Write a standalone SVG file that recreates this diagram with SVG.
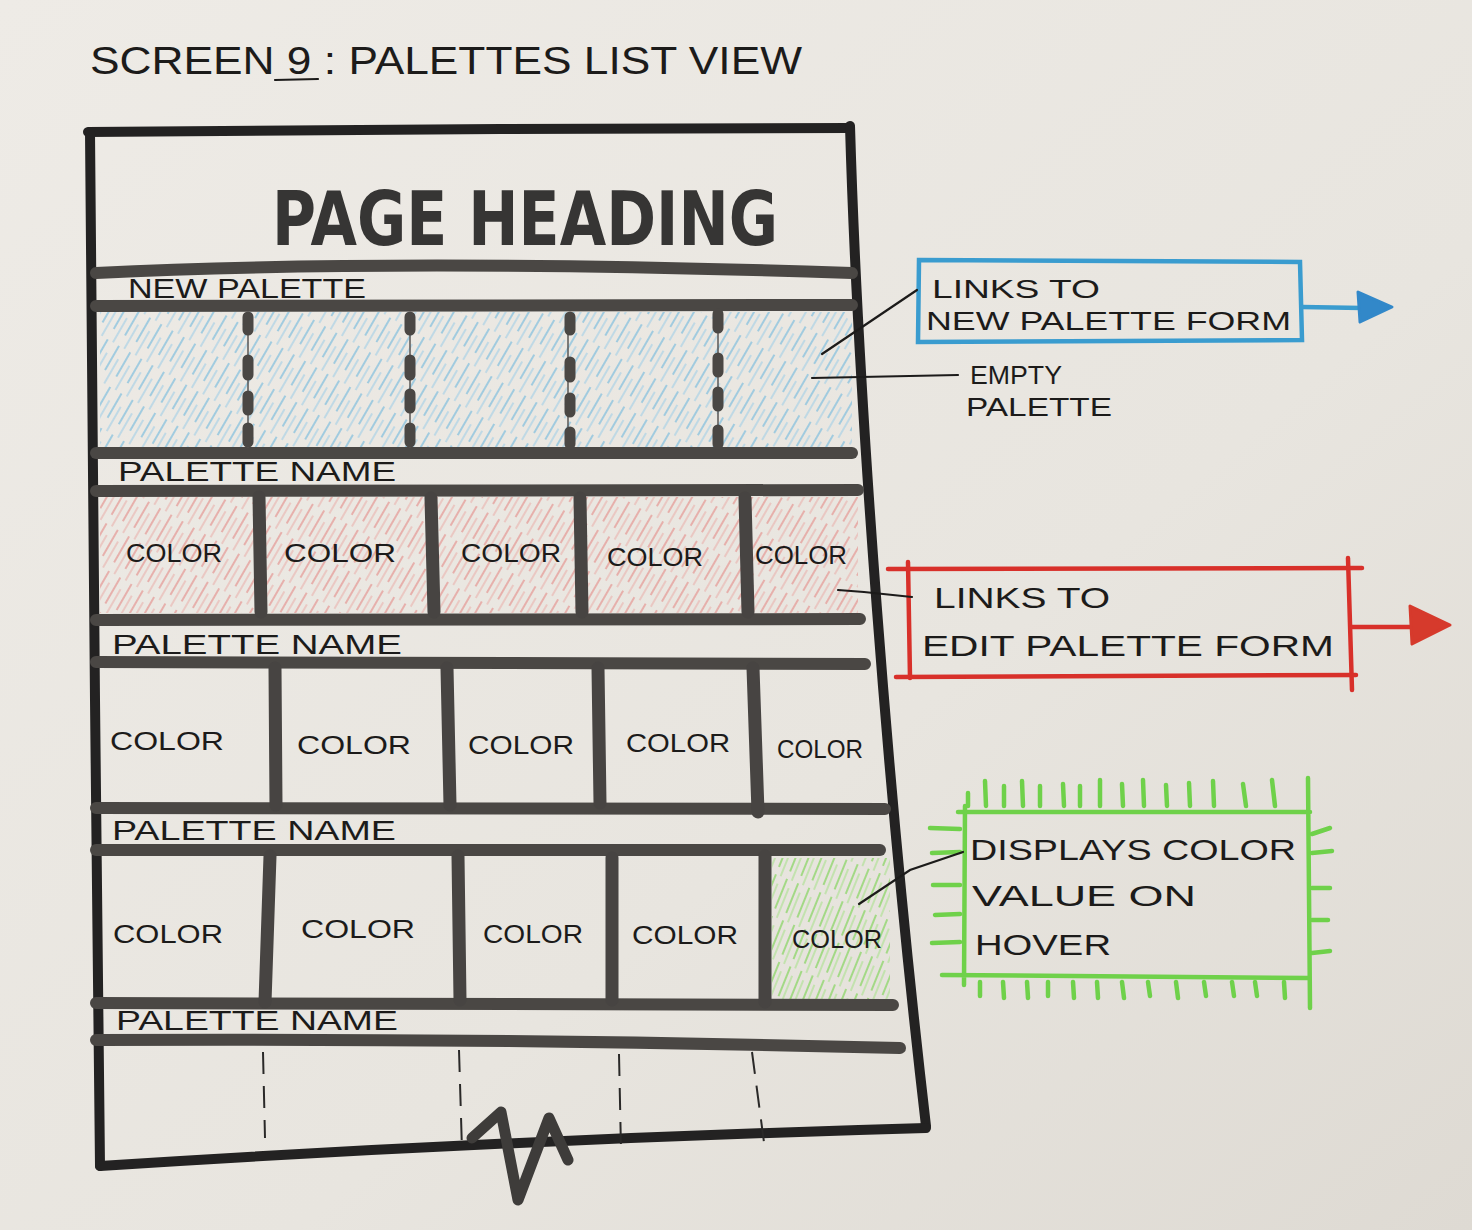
<svg xmlns="http://www.w3.org/2000/svg" width="1472" height="1230" viewBox="0 0 1472 1230">
  <defs>
    <linearGradient id="paper" x1="0" y1="0" x2="1" y2="1">
      <stop offset="0" stop-color="#eeebe6"/>
      <stop offset="0.6" stop-color="#e8e5df"/>
      <stop offset="1" stop-color="#dedad3"/>
    </linearGradient>
    <pattern id="hatchBlue" patternUnits="userSpaceOnUse" width="13" height="40" patternTransform="rotate(30)">
      <line x1="3" y1="0" x2="3" y2="28" stroke="#8fc4df" stroke-width="1.6"/>
      <line x1="9" y1="12" x2="9" y2="40" stroke="#a8d1e6" stroke-width="1.3"/>
    </pattern>
    <pattern id="hatchRed" patternUnits="userSpaceOnUse" width="13" height="40" patternTransform="rotate(30)">
      <line x1="3" y1="0" x2="3" y2="30" stroke="#e6a6a2" stroke-width="1.7"/>
      <line x1="9" y1="10" x2="9" y2="40" stroke="#eab7b2" stroke-width="1.3"/>
    </pattern>
    <pattern id="hatchGreen" patternUnits="userSpaceOnUse" width="12" height="40" patternTransform="rotate(22)">
      <line x1="3" y1="0" x2="3" y2="32" stroke="#a3d986" stroke-width="2"/>
      <line x1="8" y1="8" x2="8" y2="40" stroke="#b7e29f" stroke-width="1.5"/>
    </pattern>
  </defs>
  <style>
    .hand { font-family: "Liberation Sans", "DejaVu Sans", sans-serif; fill: #1c1b1a; }
    .frame { fill: none; stroke: #232222; stroke-width: 10; stroke-linecap: round; stroke-linejoin: round; }
    .bar { fill: none; stroke: #4a4744; stroke-width: 12; stroke-linecap: round; }
    .vbar { fill: none; stroke: #474442; stroke-width: 13; stroke-linecap: round; }
    .dot { fill: none; stroke: #4a4744; stroke-width: 11; stroke-linecap: round; }
    .thin { fill: none; stroke: #5a5755; stroke-width: 1.5; }
    .dash { fill: none; stroke: #2a2928; stroke-width: 2; stroke-dasharray: 22 12; }
    .leader { fill: none; stroke: #1c1b1a; stroke-width: 2.2; stroke-linecap: round; }
    .blue { fill: none; stroke: #3a9ccf; stroke-width: 4.5; stroke-linecap: round; }
    .red { fill: none; stroke: #d8302a; stroke-width: 4.5; stroke-linecap: round; }
    .green { fill: none; stroke: #6fd14a; stroke-width: 4.5; stroke-linecap: round; }
    .label { font-size: 28px; }
    .color { font-size: 25px; }
    .note { font-size: 30px; }
    .note-sm { font-size: 26px; }
  </style>

  <rect x="0" y="0" width="1472" height="1230" fill="url(#paper)"/>

  <!-- title -->
  <g id="title">
    <text class="hand" x="90" y="74" font-size="38" textLength="712" lengthAdjust="spacingAndGlyphs">SCREEN 9 : PALETTES LIST VIEW</text>
    <path class="leader" d="M275,80 L318,79"/>
  </g>

  <!-- colour fills drawn under the ink -->
  <g id="fills">
    <rect x="100" y="312" width="752" height="136" fill="url(#hatchBlue)"/>
    <rect x="100" y="497" width="758" height="116" fill="url(#hatchRed)"/>
    <rect x="772" y="858" width="118" height="142" fill="url(#hatchGreen)"/>
  </g>

  <!-- page frame -->
  <g id="frame">
    <path class="frame" d="M88,132 L500,129 L850,128"/>
    <path class="frame" d="M850,126 C858,400 888,800 926,1126"/>
    <path class="frame" d="M90,132 L95,700 L100,1166"/>
    <path class="frame" d="M100,1166 Q500,1140 926,1128"/>
  </g>

  <!-- page heading -->
  <g id="heading">
    <text x="272" y="245" font-family="'DejaVu Sans', sans-serif" font-weight="bold" font-size="74" fill="#363534" textLength="506" lengthAdjust="spacingAndGlyphs">PAGE HEADING</text>
  </g>

  <!-- horizontal row dividers -->
  <g id="dividers">
    <path class="bar" d="M96,273 Q400,258 852,273"/>
    <path class="bar" d="M96,306 L852,305"/>
    <path class="bar" d="M96,453 L852,453"/>
    <path class="bar" d="M96,491 L858,490"/>
    <path class="bar" d="M96,620 L860,619"/>
    <path class="bar" d="M96,662 L865,664"/>
    <path class="bar" d="M96,808 L885,809"/>
    <path class="bar" d="M96,850 L880,850"/>
    <path class="bar" d="M96,1003 L893,1005"/>
    <path class="bar" d="M96,1040 Q500,1038 900,1048"/>
  </g>

  <!-- new palette row -->
  <g id="new-palette">
    <text class="hand label" x="128" y="298" textLength="238" lengthAdjust="spacingAndGlyphs">NEW PALETTE</text>
    <g id="empty-slots">
      <path class="thin" d="M248,315 L248,448 M410,315 L410,448 M568,315 L568,448 M718,315 L718,448"/>
      <path class="dot" d="M248,317 L248,330 M248,360 L248,375 M248,396 L248,410 M248,428 L248,442"/>
      <path class="dot" d="M410,317 L410,330 M410,360 L410,375 M410,394 L410,408 M410,428 L410,442"/>
      <path class="dot" d="M570,317 L570,330 M570,362 L570,377 M570,398 L570,412 M570,432 L570,444"/>
      <path class="dot" d="M718,314 L718,328 M718,358 L718,372 M718,392 L718,406 M718,430 L718,444"/>
    </g>
  </g>

  <!-- palette 1 -->
  <g id="palette-1">
    <text class="hand label" x="118" y="481" textLength="278" lengthAdjust="spacingAndGlyphs">PALETTE NAME</text>
    <path class="vbar" d="M259,497 L261,612 M431,498 L434,612 M580,498 L582,612 M745,498 L748,612"/>
    <text class="hand color" x="126" y="562" textLength="96" lengthAdjust="spacingAndGlyphs">COLOR</text>
    <text class="hand color" x="284" y="562" textLength="112" lengthAdjust="spacingAndGlyphs">COLOR</text>
    <text class="hand color" x="461" y="562" textLength="100" lengthAdjust="spacingAndGlyphs">COLOR</text>
    <text class="hand color" x="607" y="566" textLength="96" lengthAdjust="spacingAndGlyphs">COLOR</text>
    <text class="hand color" x="755" y="564" textLength="92" lengthAdjust="spacingAndGlyphs">COLOR</text>
  </g>

  <!-- palette 2 -->
  <g id="palette-2">
    <text class="hand label" x="112" y="654" textLength="290" lengthAdjust="spacingAndGlyphs">PALETTE NAME</text>
    <path class="vbar" d="M275,668 L276,805 M447,668 L450,805 M598,668 L600,803 M753,668 L758,812"/>
    <text class="hand color" x="110" y="750" textLength="114" lengthAdjust="spacingAndGlyphs">COLOR</text>
    <text class="hand color" x="297" y="754" textLength="114" lengthAdjust="spacingAndGlyphs">COLOR</text>
    <text class="hand color" x="468" y="754" textLength="106" lengthAdjust="spacingAndGlyphs">COLOR</text>
    <text class="hand color" x="626" y="752" textLength="104" lengthAdjust="spacingAndGlyphs">COLOR</text>
    <text class="hand color" x="777" y="758" textLength="86" lengthAdjust="spacingAndGlyphs">COLOR</text>
  </g>

  <!-- palette 3 -->
  <g id="palette-3">
    <text class="hand label" x="112" y="840" textLength="284" lengthAdjust="spacingAndGlyphs">PALETTE NAME</text>
    <path class="vbar" d="M270,856 L265,1002 M458,856 L460,1000 M612,858 L612,1000 M765,856 L765,1002"/>
    <text class="hand color" x="113" y="943" textLength="110" lengthAdjust="spacingAndGlyphs">COLOR</text>
    <text class="hand color" x="301" y="938" textLength="114" lengthAdjust="spacingAndGlyphs">COLOR</text>
    <text class="hand color" x="483" y="943" textLength="100" lengthAdjust="spacingAndGlyphs">COLOR</text>
    <text class="hand color" x="632" y="944" textLength="106" lengthAdjust="spacingAndGlyphs">COLOR</text>
    <text class="hand color" x="792" y="948" textLength="90" lengthAdjust="spacingAndGlyphs">COLOR</text>
  </g>

  <!-- palette 4, cut off -->
  <g id="palette-4">
    <text class="hand label" x="116" y="1030" textLength="282" lengthAdjust="spacingAndGlyphs">PALETTE NAME</text>
    <path class="dash" d="M263,1052 L265,1138 M459,1050 L462,1150 M619,1054 L621,1150 M752,1052 L765,1150"/>
  </g>

  <!-- tear mark below the frame -->
  <g id="tear">
    <path d="M472,1138 L501,1112 L518,1200 L549,1118 L568,1160" fill="none" stroke="#3e3c3a" stroke-width="11" stroke-linejoin="round" stroke-linecap="round"/>
  </g>

  <!-- annotations -->
  <g id="note-new-palette">
    <path class="blue" d="M919,260 L1300,262 L1302,340 L918,342 Z"/>
    <path class="blue" d="M1302,307 L1362,308" stroke-width="6"/>
    <path d="M1358,292 L1392,307 L1360,322 Z" fill="#3288c9" stroke="#3288c9" stroke-width="3" stroke-linejoin="round"/>
    <text class="hand note-sm" x="932" y="298" textLength="168" lengthAdjust="spacingAndGlyphs">LINKS TO</text>
    <text class="hand note-sm" x="926" y="330" textLength="365" lengthAdjust="spacingAndGlyphs">NEW PALETTE FORM</text>
  </g>

  <g id="note-empty-palette">
    <text class="hand note-sm" x="970" y="384" textLength="92" lengthAdjust="spacingAndGlyphs">EMPTY</text>
    <text class="hand note-sm" x="966" y="416" textLength="146" lengthAdjust="spacingAndGlyphs">PALETTE</text>
  </g>

  <g id="note-edit-palette">
    <path class="red" d="M888,569 L1362,568"/>
    <path class="red" d="M908,562 L910,678"/>
    <path class="red" d="M1348,558 L1352,690"/>
    <path class="red" d="M896,677 L1356,675"/>
    <path class="red" d="M1352,627 L1415,627" stroke-width="6"/>
    <path d="M1410,606 L1450,625 L1412,644 Z" fill="#d63a2c" stroke="#d63a2c" stroke-width="3" stroke-linejoin="round"/>
    <text class="hand note" x="934" y="608" textLength="176" lengthAdjust="spacingAndGlyphs">LINKS TO</text>
    <text class="hand note" x="922" y="656" textLength="412" lengthAdjust="spacingAndGlyphs">EDIT PALETTE FORM</text>
  </g>

  <g id="note-hover">
    <path class="green" d="M958,812 L1310,812 M965,806 L964,985 M1308,778 L1310,1008 M942,975 L1308,978"/>
    <path class="green" stroke-width="4" d="M968,793 L968,806 M985,781 L986,806 M1004,786 L1004,806 M1022,781 L1023,806 M1040,786 L1040,806 M1063,784 L1064,806 M1080,786 L1080,806 M1100,780 L1100,806 M1122,784 L1123,806 M1143,780 L1144,806 M1166,785 L1167,806 M1189,783 L1190,806 M1213,781 L1214,806 M1243,784 L1246,806 M1272,780 L1275,806"/>
    <path class="green" stroke-width="4" d="M980,982 L980,996 M1003,982 L1004,998 M1027,982 L1028,998 M1048,982 L1048,996 M1073,982 L1074,998 M1097,982 L1098,998 M1122,982 L1124,998 M1148,982 L1150,996 M1176,982 L1178,998 M1204,982 L1206,996 M1232,982 L1234,996 M1255,982 L1257,996 M1284,982 L1285,998"/>
    <path class="green" stroke-width="4" d="M930,828 L960,829 M932,853 L960,852 M933,885 L960,885 M935,915 L960,914 M932,943 L960,942"/>
    <path class="green" stroke-width="4" d="M1312,834 L1330,828 M1312,853 L1332,851 M1312,888 L1330,888 M1312,920 L1328,920 M1312,953 L1330,951"/>
    <text class="hand note" x="970" y="860" textLength="326" lengthAdjust="spacingAndGlyphs">DISPLAYS COLOR</text>
    <text class="hand note" x="972" y="906" textLength="224" lengthAdjust="spacingAndGlyphs">VALUE ON</text>
    <text class="hand note" x="975" y="955" textLength="136" lengthAdjust="spacingAndGlyphs">HOVER</text>
  </g>

  <!-- leader lines -->
  <g id="connectors">
    <path class="leader" d="M917,290 L822,354"/>
    <path class="leader" d="M812,378 L958,375"/>
    <path class="leader" d="M838,590 L864,592 L912,597"/>
    <path class="leader" d="M859,904 L910,870 L963,852"/>
  </g>
</svg>
